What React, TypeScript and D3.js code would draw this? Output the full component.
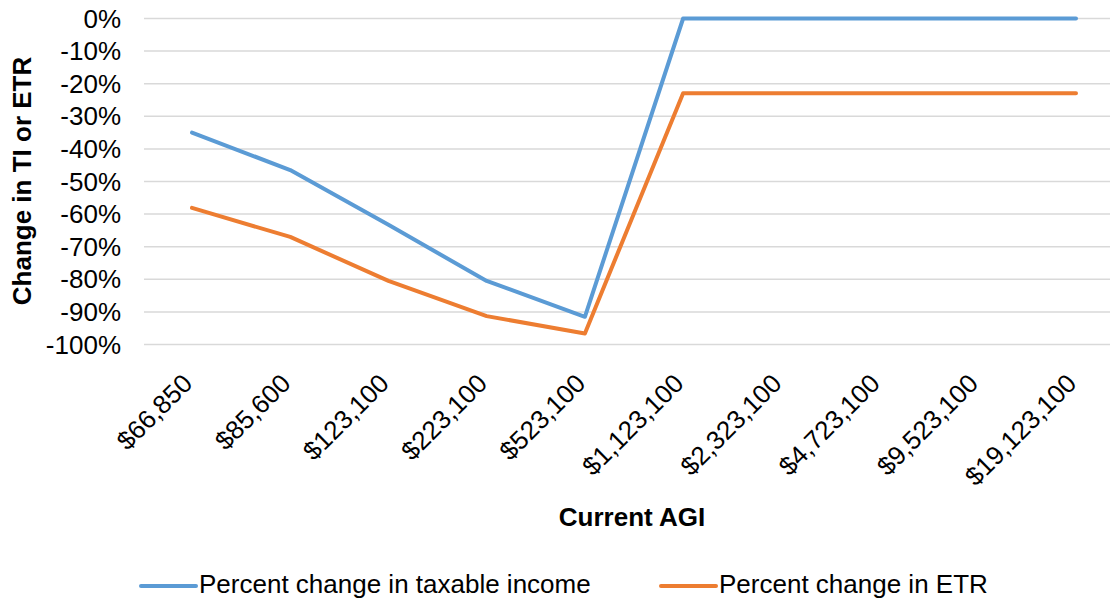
import React from "react";
import * as d3 from "d3";

const categories = ["$66,850", "$85,600", "$123,100", "$223,100", "$523,100", "$1,123,100", "$2,323,100", "$4,723,100", "$9,523,100", "$19,123,100"];
const taxableIncome = [-35, -46.5, -63.3, -80.5, -91.5, 0, 0, 0, 0, 0];
const etr = [-58.1, -67, -80.5, -91.3, -96.6, -22.9, -22.9, -22.9, -22.9, -22.9];
const yTicks = [0, -10, -20, -30, -40, -50, -60, -70, -80, -90, -100];
const seriesNames = ["Percent change in taxable income", "Percent change in ETR"];
const colors = ["#5B9BD5", "#ED7D31"];

export default function App() {
  const W = 1110, H = 602;
  const x = d3.scalePoint<string>().domain(categories).range([192, 1076]);
  const y = d3.scaleLinear().domain([-100, 0]).range([344.5, 18.5]);
  const line = d3.line<number>().x((_, i) => x(categories[i])!).y((d) => y(d));
  const font = "Arial, 'Liberation Sans', sans-serif";
  const series = [taxableIncome, etr];
  const fs = 26;
  return (
    <svg width={W} height={H} style={{ position: "absolute", left: 0, top: 0, background: "#fff" }} fontFamily={font}>
      {yTicks.map((t) => (
        <g key={t}>
          <line x1={144} x2={1110} y1={y(t)} y2={y(t)} stroke="#D9D9D9" strokeWidth={1.5} />
          <text x={121} y={y(t) + 9} textAnchor="end" fontSize={fs} fill="#000">{t}%</text>
        </g>
      ))}
      {categories.map((c) => (
        <text key={c} transform={`translate(${x(c)! + 2},${385}) rotate(-45)`} textAnchor="end" fontSize={fs} fill="#000">{c}</text>
      ))}
      {series.map((s, i) => (
        <path key={i} d={line(s)!} fill="none" stroke={colors[i]} strokeWidth={4} strokeLinejoin="round" strokeLinecap="round" />
      ))}
      <text transform={`translate(31,181) rotate(-90)`} textAnchor="middle" fontSize={fs} fontWeight="bold" fill="#000">Change in TI or ETR</text>
      <text x={632} y={526} textAnchor="middle" fontSize={fs} fontWeight="bold" fill="#000">Current AGI</text>
      {seriesNames.map((n, i) => {
        const lx = i === 0 ? 141 : 661;
        return (
          <g key={n}>
            <line x1={lx} x2={lx + 55} y1={586} y2={586} stroke={colors[i]} strokeWidth={4} strokeLinecap="round" />
            <text x={lx + 58} y={593} fontSize={fs} fill="#000">{n}</text>
          </g>
        );
      })}
    </svg>
  );
}
